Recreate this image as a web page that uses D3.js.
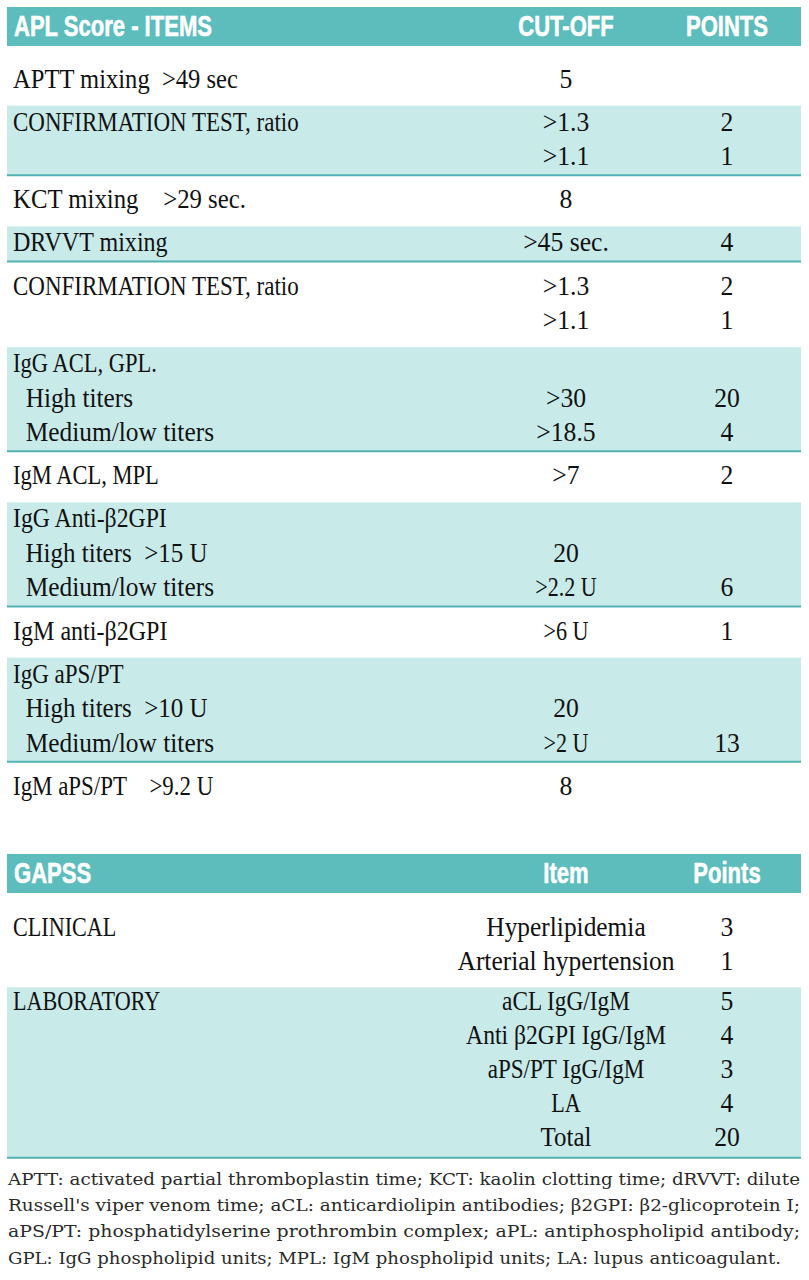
<!DOCTYPE html>
<html>
<head>
<meta charset="utf-8">
<script src="https://cdn.jsdelivr.net/npm/d3@7"></script>
<style>
  html, body { margin: 0; padding: 0; background: #fff; }
  svg { display: block; }
  text { white-space: pre; }
</style>
</head>
<body>
<div id="chart"></div>
<script>
// ---------- DATA ----------
const aplColumns = ["APL Score - ITEMS", "CUT-OFF", "POINTS"];
const aplItems = [
  "APTT mixing  >49 sec",
  "CONFIRMATION TEST, ratio",
  "",
  "KCT mixing    >29 sec.",
  "DRVVT mixing",
  "CONFIRMATION TEST, ratio",
  "",
  "IgG ACL, GPL.",
  "  High titers",
  "  Medium/low titers",
  "IgM ACL, MPL",
  "IgG Anti-\u03b22GPI",
  "  High titers  >15 U",
  "  Medium/low titers",
  "IgM anti-\u03b22GPI",
  "IgG aPS/PT",
  "  High titers  >10 U",
  "  Medium/low titers",
  "IgM aPS/PT    >9.2 U"
];
const aplCutoffs = ["5", ">1.3", ">1.1", "8", ">45 sec.", ">1.3", ">1.1", "", ">30", ">18.5", ">7", "", "20", ">2.2 U", ">6 U", "", "20", ">2 U", "8"];
const aplPoints  = ["", "2", "1", "", "4", "2", "1", "", "20", "4", "2", "", "", "6", "1", "", "", "13", ""];
const aplGroups  = [0, 1, 1, 2, 3, 4, 4, 5, 5, 5, 6, 7, 7, 7, 8, 9, 9, 9, 10];

const gapssColumns = ["GAPSS", "Item", "Points"];
const gapssCategories = ["CLINICAL", "", "LABORATORY", "", "", "", ""];
const gapssItems = ["Hyperlipidemia", "Arterial hypertension", "aCL IgG/IgM", "Anti \u03b22GPI IgG/IgM", "aPS/PT IgG/IgM", "LA", "Total"];
const gapssPoints = ["3", "1", "5", "4", "3", "4", "20"];
const gapssGroups = [0, 0, 1, 1, 1, 1, 1];

const footnoteLines = [
  "APTT: activated partial thromboplastin time; KCT: kaolin clotting time; dRVVT: dilute",
  "Russell's viper venom time; aCL: anticardiolipin antibodies; \u03b22GPI: \u03b22-glicoprotein I;",
  "aPS/PT: phosphatidylserine prothrombin complex; aPL: antiphospholipid antibody;",
  "GPL: IgG phospholipid units; MPL: IgM phospholipid units; LA: lupus anticoagulant."
];

// ---------- STYLE ----------
const W = 809, H = 1280;
const TEAL = "#5dbdbd", LIGHT = "#c8ebea", LINE = "#52b2b2";
const SERIF = "'Liberation Serif', 'Times New Roman', serif";
const SANS = "'Liberation Sans', Arial, sans-serif";
const NOTE = "'DejaVu Serif', serif";
const serifSize = 28;
const headSize = 29, headScale = 0.76;
const left = 7, right = 801;

// condensed-face emulation: capitals are narrower than lowercase in the source face
function condense(txt) {
  const letters = txt.replace(/[^A-Za-z\u03b2]/g, "");
  const caps = letters.replace(/[^A-Z]/g, "").length;
  const f = letters.length ? caps / letters.length : 0;
  return (0.95 - 0.13 * f) * 27 / serifSize;
}

const svg = d3.select("#chart").append("svg")
  .attr("width", W).attr("height", H).attr("viewBox", `0 0 ${W} ${H}`);
svg.append("rect").attr("width", W).attr("height", H).attr("fill", "#fff");

// column positions
const colX = d3.scaleOrdinal().domain(["item", "mid", "points"]).range([13, 566, 727]);
const colAnchor = { item: "start", mid: "middle", points: "middle" };

function serifText(g, txt, col, y) {
  if (!txt) return;
  g.append("text")
    .attr("transform", `translate(${colX(col)},${y}) scale(${condense(txt)},1)`)
    .attr("text-anchor", colAnchor[col])
    .attr("font-family", SERIF)
    .attr("font-size", serifSize)
    .attr("fill", "#111")
    .text(txt);
}

function header(g, cols, top) {
  const bandH = 39;
  g.append("rect").attr("x", left).attr("y", top).attr("width", right - left).attr("height", bandH).attr("fill", TEAL);
  const keys = ["item", "mid", "points"];
  cols.forEach((c, k) => {
    const x = k === 0 ? 14 : colX(keys[k]);
    g.append("text")
      .attr("transform", `translate(${x},${top + 29}) scale(${headScale},1)`)
      .attr("text-anchor", colAnchor[keys[k]])
      .attr("font-family", SANS)
      .attr("font-weight", "bold")
      .attr("font-size", headSize)
      .attr("fill", "#fff")
      .attr("stroke", "#fff")
      .attr("stroke-width", 0.6)
      .text(c);
  });
}

function drawTable(g, rows, groups, yScale, gapRatio, padTop, padBottom) {
  const slot = (i) => i + groups[i] * gapRatio;
  const centers = rows.map((r, i) => yScale(slot(i)));
  const groupIds = Array.from(new Set(groups));
  groupIds.forEach(gid => {
    if (gid % 2 !== 1) return;
    const idx = groups.map((v, i) => v === gid ? i : -1).filter(i => i >= 0);
    const y0 = centers[idx[0]] - padTop;
    const y1 = centers[idx[idx.length - 1]] + padBottom;
    g.append("rect").attr("x", left).attr("y", y0).attr("width", right - left).attr("height", y1 - y0).attr("fill", LIGHT);
    g.append("line").attr("x1", left).attr("x2", right).attr("y1", y1).attr("y2", y1)
      .attr("stroke", LINE).attr("stroke-width", 2);
  });
  rows.forEach((r, i) => {
    const yb = centers[i] + 9.5;
    serifText(g, r[0], "item", yb);
    serifText(g, r[1], "mid", yb);
    serifText(g, r[2], "points", yb);
  });
}

// ---------- TABLE 1 ----------
const t1 = svg.append("g");
header(t1, aplColumns, 7);
const y1 = d3.scaleLinear().domain([0, 1]).range([78, 112.5]);
const aplRows = aplItems.map((d, i) => [d, aplCutoffs[i], aplPoints[i]]);
drawTable(t1, aplRows, aplGroups, y1, 0.25, 15.5, 19.5);

// ---------- TABLE 2 ----------
const t2 = svg.append("g");
header(t2, gapssColumns, 854);
const y2 = d3.scaleLinear().domain([0, 1]).range([926, 960]);
const gapssRows = gapssItems.map((d, i) => [gapssCategories[i], d, gapssPoints[i]]);
drawTable(t2, gapssRows, gapssGroups, y2, 0.2, 13.5, 21);

// ---------- FOOTNOTE ----------
const fy = d3.scaleLinear().domain([0, 1]).range([1185, 1211.2]);
svg.append("g").selectAll("text").data(footnoteLines).join("text")
  .attr("x", 8)
  .attr("y", (d, i) => fy(i))
  .attr("font-family", NOTE)
  .attr("font-size", 16.5)
  .attr("fill", "#2a2a2a")
  .attr("textLength", (d, i) => i === footnoteLines.length - 1 ? 773 : 792)
  .attr("lengthAdjust", "spacingAndGlyphs")
  .text(d => d);
</script>
</body>
</html>
